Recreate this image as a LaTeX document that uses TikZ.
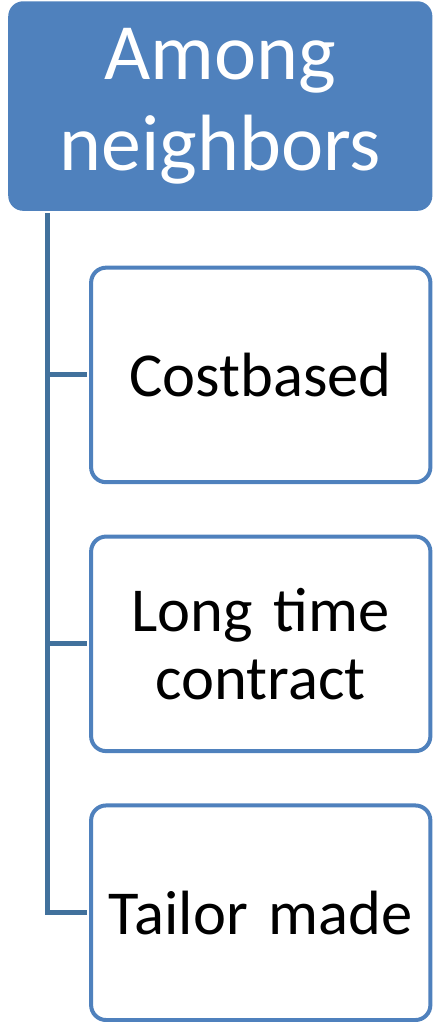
\documentclass[tikz,border=0pt]{standalone}
\usepackage{fontspec}
\setmainfont{Carlito}
\usepackage{tikz}
\usetikzlibrary{arrows}
\usetikzlibrary{positioning}
\definecolor{headblue}{RGB}{79,129,189}
\definecolor{linkblue}{RGB}{65,113,156}
\tikzstyle{head} = [rectangle, fill=headblue, text=white, rounded corners=11.25pt,
text width=300pt, text centered, minimum width=318.75pt, minimum height=157.5pt,
font=\fontsize{60pt}{68pt}\selectfont]
\tikzstyle{leaf} = [rectangle, draw=headblue, fill=white, rounded corners=11.25pt,
text width=240pt, text centered, minimum width=255pt, minimum height=161.25pt,
node distance=202.1pt, line width=3pt, font=\fontsize{47pt}{51pt}\selectfont]
\tikzstyle{link} = [draw=linkblue, line width=3.75pt, shorten >=1.5pt]

\begin{document}
\begin{tikzpicture}
% Place nodes
	\node [head] 					 			(among) {Among\\neighbors};
	\node [leaf, below of=among, xshift=30.4pt,yshift=0cm] (cost) {Costbased};
	\node [leaf, below of=cost, xshift=0cm,yshift=0cm] (contract) {Long time\\contract};
	\node [leaf, below of=contract, xshift=0cm,yshift=0cm] (tailor) {Tailor made};
	\coordinate [xshift=29.6pt,yshift=-1.5pt] (trunk) at (among.south west);
	\useasboundingbox ([shift={(-6pt,0.75pt)}]among.north west) rectangle +(324.75pt,-766.5pt);

% Draw edges
	\path [link] (trunk) |- (tailor.west);
	\path [link] (trunk) |- (contract.west);
	\path [link] (trunk) |- (cost.west);

\end{tikzpicture}
\end{document}
